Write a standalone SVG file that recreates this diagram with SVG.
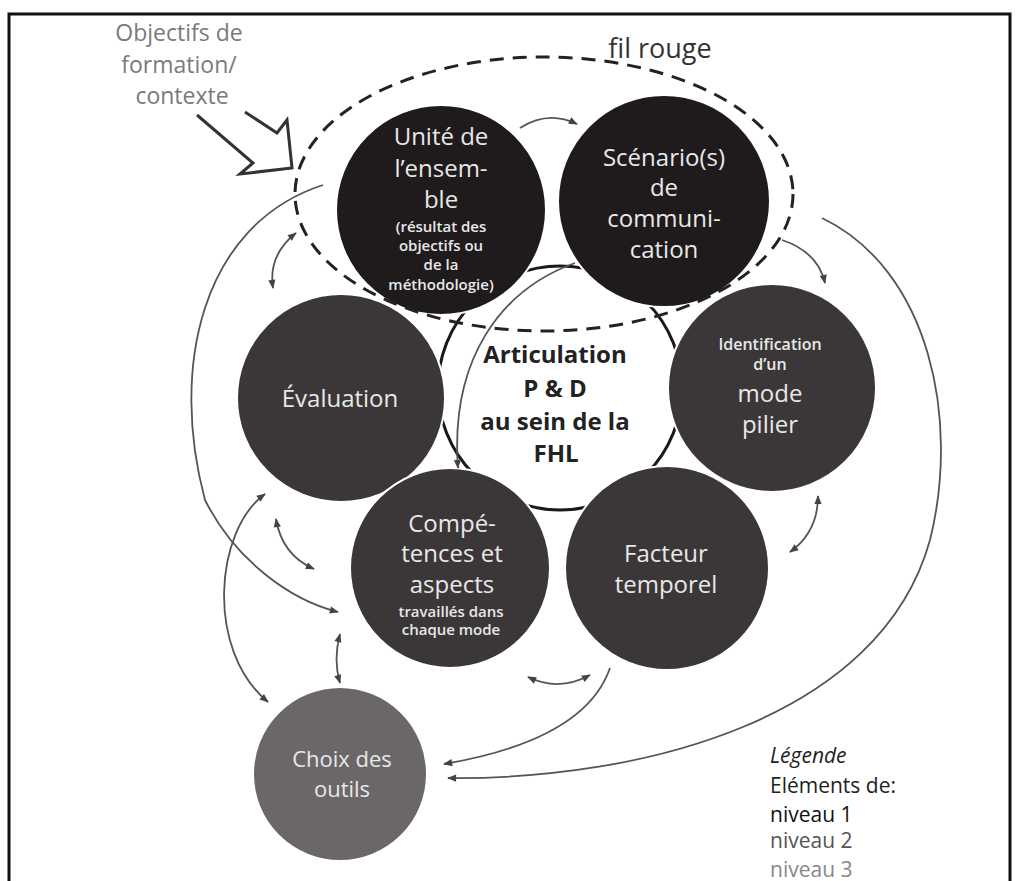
<svg xmlns="http://www.w3.org/2000/svg" width="1021" height="881" viewBox="0 0 1021 881">
  <style>
    .lvl1 { fill: #1f1b1c; stroke: #ffffff; stroke-width: 2; }
    .lvl2 { fill: #3b3738; stroke: #ffffff; stroke-width: 2; }
    .lvl3 { fill: #6b6768; stroke: #ffffff; stroke-width: 2; }
    .big { font-family: "Open Sans", "Liberation Sans", sans-serif; font-size: 24px; fill: #e8e8e8; text-anchor: middle; }
    .small { font-family: "Open Sans", "Liberation Sans", sans-serif; font-size: 15px; font-weight: 600; fill: #e8e8e8; text-anchor: middle; }
    .tiny { font-family: "Open Sans", "Liberation Sans", sans-serif; font-size: 16px; font-weight: 600; fill: #e8e8e8; text-anchor: middle; }
    .core { font-family: "Open Sans", "Liberation Sans", sans-serif; font-size: 24px; font-weight: 700; fill: #222; text-anchor: middle; }
    .link { fill: none; stroke: #555; stroke-width: 1.8; }
    .legend { font-family: "Open Sans", "Liberation Sans", sans-serif; font-size: 21px; }
  </style>
  <defs>
    <marker id="ah" viewBox="0 0 10 10" refX="9" refY="5" markerWidth="10" markerHeight="9" markerUnits="userSpaceOnUse" orient="auto-start-reverse">
      <path d="M0,1 L10,5 L0,9 z" fill="#444"/>
    </marker>
  </defs>

  <rect width="1021" height="881" fill="#ffffff"/>

  <!-- frame, open at the bottom -->
  <path d="M9,881 V14 H1010 V881" fill="none" stroke="#111" stroke-width="3"/>

  <!-- central hub -->
  <g id="node-articulation">
    <circle cx="560" cy="388" r="122" fill="#ffffff" stroke="#1a1a1a" stroke-width="3"/>
    <text class="core" x="555" y="363">Articulation</text>
    <text class="core" x="555" y="397">P &amp; D</text>
    <text class="core" x="555" y="430">au sein de la</text>
    <text class="core" x="556" y="462">FHL</text>
  </g>

  <g id="node-unite">
    <circle class="lvl1" cx="441" cy="210" r="105"/>
    <text class="big" x="441" y="145">Unité de</text>
    <text class="big" x="441" y="177">l’ensem-</text>
    <text class="big" x="441" y="208">ble</text>
    <text class="small" x="441" y="232">(résultat des</text>
    <text class="small" x="441" y="251">objectifs ou</text>
    <text class="small" x="441" y="270">de la</text>
    <text class="small" x="441" y="290">méthodologie)</text>
  </g>

  <g id="node-scenario">
    <circle class="lvl1" cx="664" cy="201" r="106"/>
    <text class="big" x="664" y="166">Scénario(s)</text>
    <text class="big" x="664" y="196">de</text>
    <text class="big" x="664" y="227">communi-</text>
    <text class="big" x="664" y="258">cation</text>
  </g>

  <g id="node-evaluation">
    <circle class="lvl2" cx="341" cy="398" r="104"/>
    <text class="big" x="340" y="407">Évaluation</text>
  </g>

  <g id="node-mode-pilier">
    <circle class="lvl2" cx="772" cy="388" r="104"/>
    <text class="tiny" x="770" y="350">Identification</text>
    <text class="tiny" x="770" y="370">d’un</text>
    <text class="big" x="770" y="402">mode</text>
    <text class="big" x="770" y="433">pilier</text>
  </g>

  <g id="node-competences">
    <circle class="lvl2" cx="450" cy="568" r="100"/>
    <text class="big" x="452" y="532">Compé-</text>
    <text class="big" x="452" y="562">tences et</text>
    <text class="big" x="452" y="593">aspects</text>
    <text class="small" x="451" y="617">travaillés dans</text>
    <text class="small" x="451" y="635">chaque mode</text>
  </g>

  <g id="node-facteur">
    <circle class="lvl2" cx="667" cy="568" r="102"/>
    <text class="big" x="666" y="562">Facteur</text>
    <text class="big" x="666" y="593">temporel</text>
  </g>

  <g id="node-choix">
    <circle class="lvl3" cx="340" cy="774" r="87"/>
    <text class="big" style="font-size:22px" x="342" y="767">Choix des</text>
    <text class="big" style="font-size:22px" x="342" y="797">outils</text>
  </g>

  <!-- "fil rouge" boundary around the two level-1 elements -->
  <g id="fil-rouge">
    <ellipse cx="544" cy="194" rx="249" ry="137" fill="none" stroke="#222" stroke-width="3" stroke-dasharray="14 9"/>
    <text x="660" y="58" font-family="Open Sans, Liberation Sans, sans-serif" font-size="27" fill="#333" text-anchor="middle">fil rouge</text>
  </g>

  <!-- context input -->
  <g id="context">
    <text font-family="Open Sans, Liberation Sans, sans-serif" font-size="23" fill="#7a7a7a" text-anchor="middle">
      <tspan x="182" y="41">Objectifs de</tspan>
      <tspan x="182" y="73">formation/</tspan>
      <tspan x="182" y="104">contexte</tspan>
    </text>
    <polyline points="197,115 253,163 240,174 292,168 287,120 277,133 245,112" fill="none" stroke="#333" stroke-width="3" stroke-linejoin="miter"/>
  </g>

  <!-- connectors -->
  <g id="connectors">
    <path class="link" d="M520,128 Q548,110 577,124" marker-end="url(#ah)"/>
    <path class="link" d="M782,240 Q818,252 825,283" marker-end="url(#ah)"/>
    <path class="link" d="M822,218 C930,270 960,420 930,540 C880,720 640,780 448,778" marker-end="url(#ah)"/>
    <path class="link" d="M610,668 Q585,740 444,764" marker-end="url(#ah)"/>
    <path class="link" d="M323,185 C200,225 170,370 205,500 C235,560 290,600 338,612" marker-end="url(#ah)"/>
    <path class="link" d="M575,263 C500,290 450,360 458,468" marker-end="url(#ah)"/>
    <path class="link" d="M296,233 Q268,255 273,288" marker-start="url(#ah)" marker-end="url(#ah)"/>
    <path class="link" d="M276,519 Q282,555 314,569" marker-start="url(#ah)" marker-end="url(#ah)"/>
    <path class="link" d="M265,494 C215,530 205,650 268,702" marker-start="url(#ah)" marker-end="url(#ah)"/>
    <path class="link" d="M340,634 Q333,660 340,683" marker-start="url(#ah)" marker-end="url(#ah)"/>
    <path class="link" d="M528,677 Q559,692 590,675" marker-start="url(#ah)" marker-end="url(#ah)"/>
    <path class="link" d="M818,496 Q818,532 790,552" marker-start="url(#ah)" marker-end="url(#ah)"/>
  </g>

  <!-- legend -->
  <g id="legend" class="legend">
    <text x="770" y="763" font-style="italic" fill="#222">Légende</text>
    <text x="770" y="793" fill="#222">Eléments de:</text>
    <text x="770" y="822" fill="#111">niveau 1</text>
    <text x="770" y="848" fill="#555">niveau 2</text>
    <text x="770" y="877" fill="#888">niveau 3</text>
  </g>
</svg>
